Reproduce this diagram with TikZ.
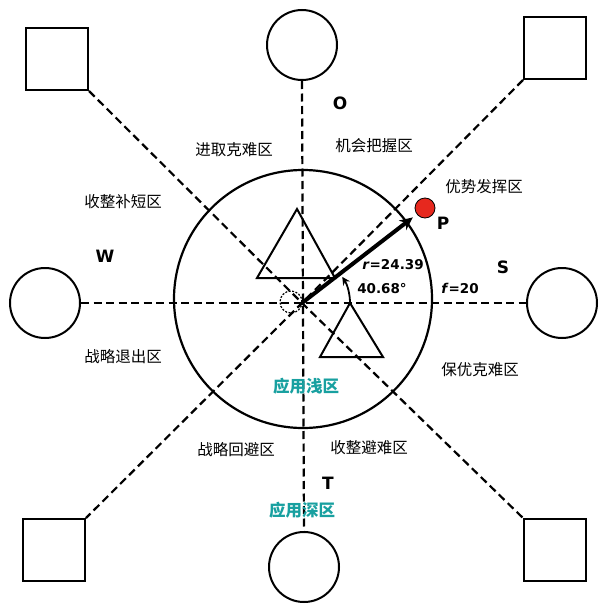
\documentclass[tikz,border=0pt]{standalone}
\usepackage{fontspec}
\setmainfont{DejaVu Sans}
\newfontfamily\cjk{Noto Sans CJK SC}
\newfontfamily\lat{DejaVu Sans}
\usetikzlibrary{arrows.meta,calc}
\definecolor{tealtxt}{RGB}{24,160,160}
\definecolor{pred}{RGB}{230,40,30}
\begin{document}
\begin{tikzpicture}[x=1pt,y=-1pt,
  box/.style={draw,line width=2pt,minimum size=62pt,inner sep=0pt},
  ring/.style={draw,circle,line width=2pt,minimum size=70pt,inner sep=0pt},
  dline/.style={line width=2.2pt,dash pattern=on 8pt off 4.5pt},
  tri/.style={line width=2pt,line join=miter},
  zone/.style={font=\cjk\fontsize{15.5}{17}\selectfont,inner sep=0pt},
  deep/.style={font=\cjk\bfseries\fontsize{16.5}{18}\selectfont,text=tealtxt,inner sep=0pt},
  letter/.style={font=\lat\bfseries\fontsize{17}{19}\selectfont,inner sep=0pt},
  val/.style={font=\lat\bfseries\fontsize{13.5}{15}\selectfont,inner sep=0pt}]
\useasboundingbox (0,0) rectangle (605,605);
\fill[white] (0,0) rectangle (605,605);

% centre
\coordinate (C) at (302,303);

% big circle
\node[draw,circle,line width=2.2pt,minimum size=258pt,inner sep=0pt] (big) at (303,299) {};

% outer squares
\node[box] (sqTL) at (57,59) {};
\node[box] (sqTR) at (555,48) {};
\node[box] (sqBL) at (54,550) {};
\node[box] (sqBR) at (555,550) {};

% outer circles
\node[ring] (cT) at (302,45) {};
\node[ring] (cB) at (304,567) {};
\node[ring] (cL) at (45,303) {};
\node[ring] (cR) at (562,303) {};

% dashed axes
\draw[dline] (cL.east) -- (cR.west);
\draw[dline] (cT.south) -- (cB.north);
\draw[dline] (sqTL.south east) -- (C) -- (sqBR.north west);
\draw[dline] (sqTR.south west) -- (C) -- (sqBL.north east);

% triangles
\draw[tri] (297,209) -- (335,278) -- (257,278) -- cycle;
\draw[tri] (350,303) -- (383,357) -- (320,357) -- cycle;

% small dashed circle at centre
\node[draw,circle,dash pattern=on 2pt off 1.5pt,line width=1.2pt,minimum size=22pt,inner sep=0pt] (small) at (291,302) {};

% point P
\node[circle,fill=pred,draw=black,line width=0.8pt,minimum size=20pt,inner sep=0pt] (pdot) at (425,208) {};
\draw[line width=4pt,-{Stealth[length=13pt,width=12pt]},shorten >=5pt] (C) -- (pdot);

% angle arc
\draw[line width=1.8pt,-{Stealth[length=8pt,width=8pt]}] ($(C)+(48,0)$) arc (0:-33:48);

% letters
\node[letter] (lO) at (340,103) {O};
\node[letter] (lW) at (105,256) {W};
\node[letter] (lS) at (503,267) {S};
\node[letter] (lT) at (328,483) {T};
\node[letter] (lP) at (443,223) {P};

% values
\node[val] (vr) at (393,265) {\textit{r}=24.39};
\node[val] (va) at (382,289) {40.68°};
\node[val] (vf) at (460,288) {\textit{f}=20};

% zone labels
\node[zone] (z1) at (234,150) {进取克难区};
\node[zone] (z2) at (374,146) {机会把握区};
\node[zone] (z3) at (123,202) {收整补短区};
\node[zone] (z4) at (484,187) {优势发挥区};
\node[zone] (z5) at (123,357) {战略退出区};
\node[zone] (z6) at (480,370) {保优克难区};
\node[zone] (z7) at (236,450) {战略回避区};
\node[zone] (z8) at (369,448) {收整避难区};
\node[deep] (d1) at (306,386) {应用浅区};
\node[deep] (d2) at (302,510) {应用深区};
\end{tikzpicture}
\end{document}
